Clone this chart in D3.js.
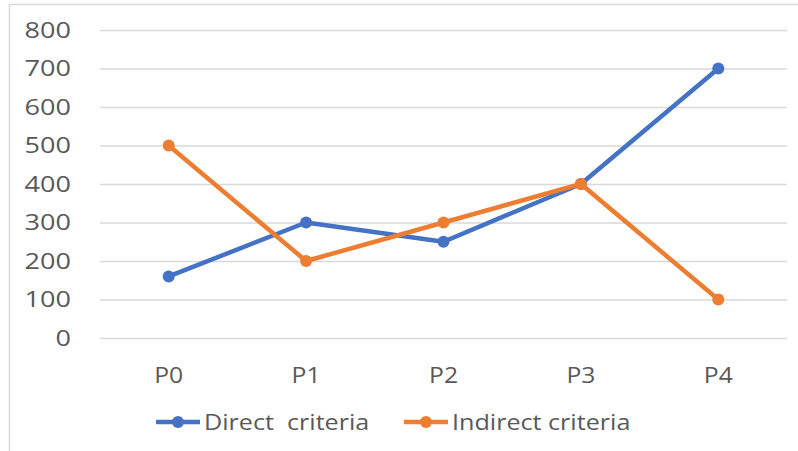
<!DOCTYPE html>
<html><head><meta charset="utf-8">
<script src="https://cdn.jsdelivr.net/npm/d3@7/dist/d3.min.js"></script>
<style>body{margin:0;background:#fff}svg{display:block}text{font-family:"Open Sans",sans-serif;fill:#595959}</style>
</head><body>
<svg id="c" width="798" height="451"></svg>
<script>
const categories = ["P0","P1","P2","P3","P4"];
const directValues = [160, 300, 250, 400, 700];
const indirectValues = [500, 200, 300, 400, 100];
const yTicks = [0,100,200,300,400,500,600,700,800];
const seriesNames = ["Direct  criteria", "Indirect criteria"];
const colors = ["#4472C4", "#ED7D31"];

const svg = d3.select("#c");
svg.append("rect").attr("x",9.5).attr("y",4.5).attr("width",800).attr("height",460)
  .attr("fill","#fff").attr("stroke","#d9d9d9").attr("stroke-width",1.5);

const x = d3.scaleBand().domain(categories).range([100,787]).padding(0);
const y = d3.scaleLinear().domain([0,800]).range([338,30]);
const cx = c => x(c) + x.bandwidth()/2;

// gridlines
const grid = svg.append("g").attr("transform","translate(100,0)")
  .call(d3.axisLeft(y).tickValues(yTicks).tickSize(-687).tickFormat(""));
grid.select(".domain").remove();
grid.selectAll("line").attr("stroke","#d9d9d9").attr("stroke-width",1.5);

// y labels
svg.append("g").selectAll("g").data(yTicks).join("g")
  .attr("transform", d => `translate(71,${y(d)}) scale(1.26,1)`)
  .append("text").attr("text-anchor","end").attr("dy","0.36em")
  .attr("font-size",21.5).text(d => d);

// x labels
svg.append("g").selectAll("g").data(categories).join("g")
  .attr("transform", d => `translate(${cx(d)},${375}) scale(1.15,1)`)
  .append("text").attr("text-anchor","middle").attr("dy","0.36em")
  .attr("font-size",21.5).text(d => d);

const series = [directValues, indirectValues];
const line = d3.line().x((d,i) => cx(categories[i])).y(d => y(d));
series.forEach((vals, s) => {
  svg.append("path").datum(vals).attr("d", line).attr("fill","none")
    .attr("stroke", colors[s]).attr("stroke-width",4.5).attr("stroke-linejoin","round");
  svg.append("g").selectAll("circle").data(vals).join("circle")
    .attr("cx",(d,i)=>cx(categories[i])).attr("cy",d=>y(d)).attr("r",6).attr("fill",colors[s]);
});

// legend
const legendX = [156, 404];
const legend = svg.append("g");
seriesNames.forEach((name, s) => {
  const g = legend.append("g").attr("transform",`translate(${legendX[s]},422)`);
  g.append("line").attr("x1",0).attr("x2",44).attr("stroke",colors[s]).attr("stroke-width",4.5);
  g.append("circle").attr("cx",22).attr("r",6).attr("fill",colors[s]);
  g.append("g").attr("transform","translate(48,0) scale(1.17,1)")
    .append("text").attr("dy","0.36em").attr("font-size",21.5).attr("xml:space","preserve")
    .style("white-space","pre").text(name);
});
</script>
</body></html>
